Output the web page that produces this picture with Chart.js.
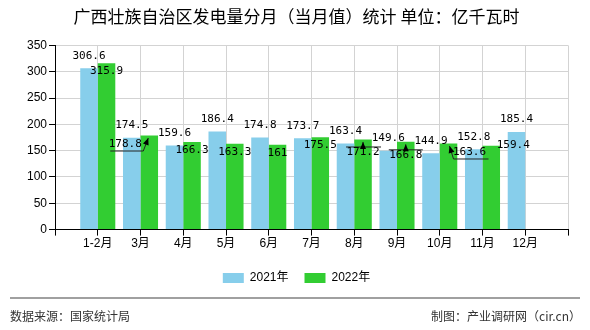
<!DOCTYPE html>
<html>
<head>
<meta charset="utf-8">
<script src="https://cdn.jsdelivr.net/npm/chart.js@4/dist/chart.umd.min.js"></script>
<style>
  body { margin: 0; background: #fff; }
  #wrap { position: relative; width: 590px; height: 330px; }
  #chart { position: absolute; left: 0; top: 0; }
  #rule { position: absolute; left: 10px; top: 297px; width: 570px; height: 2px; background: #a0a0a0; }
  .foot { position: absolute; top: 307px; font: 12px "Noto Sans CJK SC", sans-serif; color: #333; line-height: 18px; }
  #src { left: 10px; }
  #by { right: 9px; }
</style>
</head>
<body>
<div id="wrap">
  <canvas id="chart" width="590" height="330"></canvas>
  <div id="rule"></div>
  <div class="foot" id="src">数据来源：国家统计局</div>
  <div class="foot" id="by">制图：产业调研网（cir.cn）</div>
</div>
<script>
/* ===================== DATA ===================== */
const TITLE = "广西壮族自治区发电量分月（当月值）统计 单位：亿千瓦时";

const CATEGORIES = ["1-2月", "3月", "4月", "5月", "6月", "7月", "8月", "9月", "10月", "11月", "12月"];
const SERIES_NAMES = ["2021年", "2022年"];
const VALUES_2021 = [306.6, 174.5, 159.6, 186.4, 174.8, 173.7, 163.4, 149.6, 144.9, 152.8, 185.4];
const VALUES_2022 = [315.9, 178.8, 166.3, 163.3, 161, 175.5, 171.2, 166.8, 163.6, 159.4, null];

const Y_MIN = 0;
const Y_MAX = 350;
const Y_STEP = 50;

/* ===================== STYLE ===================== */
const COLORS = ["#87ceeb", "#32cd32"];
const AXIS_FONT = "'Liberation Sans', 'Noto Sans CJK SC', sans-serif";
const LABEL_FONT = "11px 'DejaVu Sans Mono', monospace";

// default label offset from bar top, per series
const LABEL_DY = [-12.5, 8];

// labels that were pushed aside in the original, with their leader lines
// (offsets relative to bar top centre)
const CALLOUTS = [
  { series: 1, index: 1, dx: -24, dy: 8.5, line: [[-39, 15.5], [-6, 15.5], [-1, 2.5]] },
  { series: 1, index: 6, dx: 0, dy: 12.5, line: [[-17, 7.5], [18, 7.5], null, [0, 7.5], [0, 2.5]] },
  { series: 1, index: 7, dx: 0, dy: 13, line: [[-17, 8], [17, 8], null, [0, 8], [0, 2.5]] },
  { series: 1, index: 8, dx: 21, dy: 8.5, line: [[40, 15.5], [5, 15.5], [1, 2.5]] },
  { series: 1, index: 9, dx: 22, dy: -0.5, line: null }
];

/* ===================== HELPERS ===================== */
// empty slots at both ends so the groups sit on the gridlines
function padded(arr, fill) {
  return [fill, ...arr, fill];
}

function drawArrow(ctx, from, to) {
  const a = Math.atan2(to[1] - from[1], to[0] - from[0]);
  ctx.beginPath();
  ctx.moveTo(to[0], to[1]);
  ctx.lineTo(to[0] - 7 * Math.cos(a) + 3 * Math.sin(a), to[1] - 7 * Math.sin(a) - 3 * Math.cos(a));
  ctx.lineTo(to[0] - 7 * Math.cos(a) - 3 * Math.sin(a), to[1] - 7 * Math.sin(a) + 3 * Math.cos(a));
  ctx.closePath();
  ctx.fill();
}

function drawLeader(ctx, x, y, pts) {
  // null splits the path into separate strokes
  let seg = [];
  const segs = [];
  pts.forEach(p => {
    if (p === null) { segs.push(seg); seg = []; }
    else seg.push([x + p[0], y + p[1]]);
  });
  segs.push(seg);

  ctx.strokeStyle = "#222";
  ctx.fillStyle = "#000";
  ctx.lineWidth = 1;
  segs.forEach(s => {
    ctx.beginPath();
    s.forEach((p, i) => (i ? ctx.lineTo(p[0], p[1]) : ctx.moveTo(p[0], p[1])));
    ctx.stroke();
  });
  const last = segs[segs.length - 1];
  drawArrow(ctx, last[last.length - 2], last[last.length - 1]);
}

/* ===================== PLUGINS ===================== */
const valueLabels = {
  id: "valueLabels",
  afterDatasetsDraw(chart) {
    const ctx = chart.ctx;
    ctx.save();
    chart.data.datasets.forEach((ds, di) => {
      chart.getDatasetMeta(di).data.forEach((bar, i) => {
        const v = ds.data[i];
        if (v == null) return;
        const idx = i - 1;
        const c = CALLOUTS.find(o => o.series === di && o.index === idx);
        let x = bar.x;
        let y = bar.y + LABEL_DY[di];
        if (c) {
          if (c.line) drawLeader(ctx, bar.x, bar.y, c.line);
          x = bar.x + c.dx;
          y = bar.y + c.dy;
        }
        ctx.font = LABEL_FONT;
        ctx.fillStyle = "#000";
        ctx.textAlign = "center";
        ctx.textBaseline = "middle";
        ctx.fillText(String(v), x, y);
      });
    });
    ctx.restore();
  }
};

/* ===================== CHART ===================== */
new Chart(document.getElementById("chart"), {
  type: "bar",
  data: {
    labels: padded(CATEGORIES, ""),
    datasets: [
      { label: SERIES_NAMES[0], data: padded(VALUES_2021, null), backgroundColor: COLORS[0] },
      { label: SERIES_NAMES[1], data: padded(VALUES_2022, null), backgroundColor: COLORS[1] }
    ]
  },
  options: {
    responsive: false,
    animation: false,
    categoryPercentage: 0.82,
    barPercentage: 1,
    layout: { padding: { left: 25, right: 22, top: 0, bottom: 36 } },
    plugins: {
      title: {
        display: true,
        text: TITLE,
        color: "#000",
        font: { size: 17, weight: "normal", family: "'Noto Sans CJK SC', sans-serif" },
        padding: { top: 6, bottom: 19 }
      },
      legend: {
        position: "bottom",
        labels: {
          boxWidth: 21,
          boxHeight: 10,
          padding: 16,
          color: "#000",
          font: { size: 12, family: AXIS_FONT }
        }
      },
      tooltip: { enabled: false }
    },
    scales: {
      x: {
        offset: false,
        grid: { offset: false, color: "#d3d3d3", tickColor: "#000", tickLength: 6 },
        border: { color: "#000" },
        ticks: { color: "#000", padding: 1, maxRotation: 0, autoSkip: false, font: { size: 12, family: AXIS_FONT } },
        afterFit(scale) { scale.height += 4; }
      },
      y: {
        min: Y_MIN,
        max: Y_MAX,
        grid: { color: "#d3d3d3", tickColor: "#000", tickLength: 6 },
        border: { color: "#000" },
        ticks: { stepSize: Y_STEP, color: "#000", padding: 2, font: { size: 12, family: AXIS_FONT } }
      }
    }
  },
  plugins: [valueLabels]
});
</script>
</body>
</html>
